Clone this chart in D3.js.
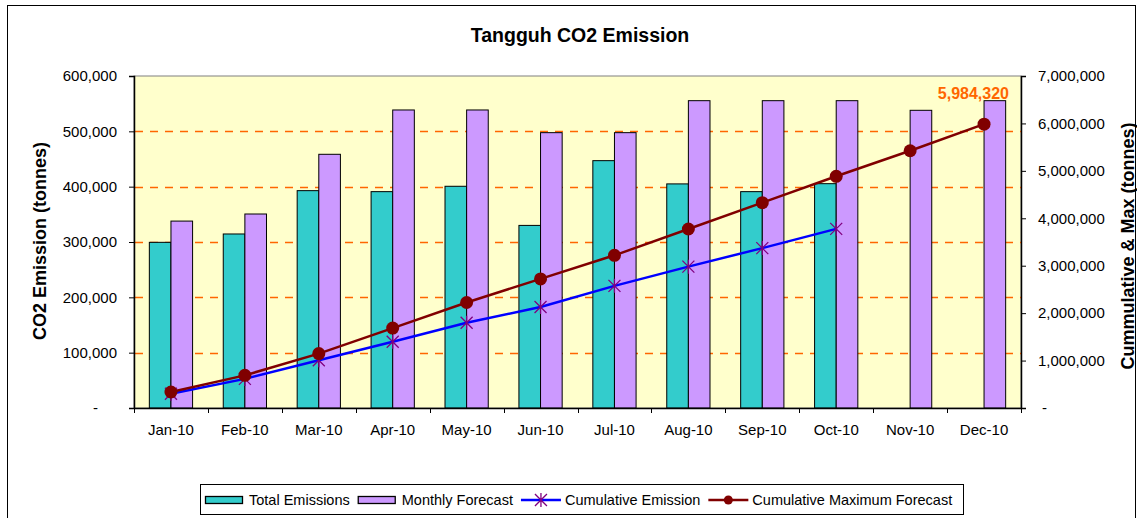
<!DOCTYPE html>
<html>
<head>
<meta charset="utf-8">
<script src="https://cdn.jsdelivr.net/npm/d3@7"></script>
<style>
  body { margin: 0; background: #fff; }
  text { font-family: Arial, "Liberation Sans", sans-serif; fill: #000; }
</style>
</head>
<body>
<div id="chart"></div>
<script>
// data
var months = ["Jan-10", "Feb-10", "Mar-10", "Apr-10", "May-10", "Jun-10",
  "Jul-10", "Aug-10", "Sep-10", "Oct-10", "Nov-10", "Dec-10"];
var totalEmissions = [299400, 314500, 392800, 391000, 400700, 330000,
  447000, 405000, 391000, 405400, null, null];
var monthlyForecast = [337800, 350600, 458500, 538600, 538600, 497600,
  497600, 555400, 555400, 555400, 538000, 555400];
var cumulativeEmission = [299400, 613900, 1006700, 1397700, 1798400, 2128400,
  2575400, 2980400, 3371400, 3776800, null, null];
var cumulativeMaxForecast = [337800, 688400, 1146900, 1685500, 2224100, 2721700,
  3219300, 3774700, 4330100, 4885500, 5423500, 5984320];
var leftTicks = [0, 100000, 200000, 300000, 400000, 500000, 600000];
var rightTicks = [0, 1000000, 2000000, 3000000, 4000000, 5000000, 6000000, 7000000];
var legendLabels = ["Total Emissions", "Monthly Forecast", "Cumulative Emission", "Cumulative Maximum Forecast"];

var W = 1137, H = 518;
var plot = { left: 134, right: 1021, top: 76, bottom: 408 };

var svg = d3.select("#chart").append("svg")
  .attr("width", W)
  .attr("height", H);

// outer frame
svg.append("rect")
  .attr("x", 7.5).attr("y", 5.5)
  .attr("width", 1128).attr("height", 520)
  .attr("fill", "#fff").attr("stroke", "#000").attr("stroke-width", 1);

var x = d3.scaleBand().domain(months).range([plot.left, plot.right]).padding(0);
var groupW = x.bandwidth() * 0.585;
var xs = d3.scaleBand().domain(["total", "forecast"]).range([-groupW / 2, groupW / 2]);

var yL = d3.scaleLinear().domain([0, 600000]).range([plot.bottom, plot.top]);
var yR = d3.scaleLinear().domain([0, 7000000]).range([plot.bottom, plot.top]);

var fmt = d3.format(",");

// plot background
svg.append("rect")
  .attr("x", plot.left).attr("y", plot.top)
  .attr("width", plot.right - plot.left).attr("height", plot.bottom - plot.top)
  .attr("fill", "#FFFFCC").attr("stroke", "#808080").attr("stroke-width", 1);

// gridlines
svg.append("g").selectAll("line")
  .data(leftTicks.filter(function (d) { return d > 0 && d < 600000; }))
  .join("line")
  .attr("x1", plot.left).attr("x2", plot.right)
  .attr("y1", function (d) { return Math.round(yL(d)) + 0.5; })
  .attr("y2", function (d) { return Math.round(yL(d)) + 0.5; })
  .attr("stroke", "#FF6600")
  .attr("stroke-width", 1.3)
  .attr("stroke-dasharray", "8,7")
  .attr("stroke-dashoffset", -1);

// bars
var groups = svg.append("g").selectAll("g")
  .data(months)
  .join("g")
  .attr("transform", function (d) { return "translate(" + (x(d) + x.bandwidth() / 2) + ",0)"; });

groups.each(function (m, i) {
  var g = d3.select(this);
  if (totalEmissions[i] != null) {
    g.append("rect")
      .attr("x", xs("total")).attr("width", xs.bandwidth())
      .attr("y", yL(totalEmissions[i]))
      .attr("height", plot.bottom - yL(totalEmissions[i]))
      .attr("fill", "#33CCCC").attr("stroke", "#000").attr("stroke-width", 1);
  }
  g.append("rect")
    .attr("x", xs("forecast")).attr("width", xs.bandwidth())
    .attr("y", yL(monthlyForecast[i]))
    .attr("height", plot.bottom - yL(monthlyForecast[i]))
    .attr("fill", "#CC99FF").attr("stroke", "#000").attr("stroke-width", 1);
});

// axes
var axL = svg.append("g")
  .attr("transform", "translate(" + plot.left + ",0)")
  .call(d3.axisLeft(yL).tickValues(leftTicks).tickSize(5).tickPadding(12)
    .tickFormat(function (d) { return d === 0 ? "-" : fmt(d); }));
axL.selectAll("text").style("font-size", "15px")
  .attr("dx", function (d) { return d === 0 ? -19 : 0; });

var axR = svg.append("g")
  .attr("transform", "translate(" + plot.right + ",0)")
  .call(d3.axisRight(yR).tickValues(rightTicks).tickSize(5).tickPadding(12)
    .tickFormat(function (d) { return d === 0 ? "-" : fmt(d); }));
axR.selectAll("text").style("font-size", "15px")
  .attr("dx", function (d) { return d === 0 ? 4 : 0; });

var axB = svg.append("g")
  .attr("transform", "translate(0," + plot.bottom + ")")
  .call(d3.axisBottom(x).tickSize(0).tickPadding(16));
axB.selectAll("text").style("font-size", "15px");
// boundary ticks
axB.selectAll(".bt")
  .data(months.map(function (d) { return x(d); }).concat([plot.right]))
  .join("line")
  .attr("x1", function (d) { return Math.round(d) + 0.5; })
  .attr("x2", function (d) { return Math.round(d) + 0.5; })
  .attr("y1", 0).attr("y2", 5)
  .attr("stroke", "#000");

[axL, axR, axB].forEach(function (a) {
  a.select(".domain").attr("stroke", "#000").attr("stroke-width", 1.5);
  a.selectAll(".tick line").attr("stroke", "#000");
});

// lines
var lineCum = d3.line()
  .defined(function (d) { return d != null; })
  .x(function (d, i) { return x(months[i]) + x.bandwidth() / 2; })
  .y(function (d) { return yR(d); });

svg.append("path")
  .datum(cumulativeEmission)
  .attr("fill", "none").attr("stroke", "#0000FF").attr("stroke-width", 2.5)
  .attr("d", lineCum);

var stars = svg.append("g").selectAll("g")
  .data(cumulativeEmission.filter(function (d) { return d != null; }))
  .join("g")
  .attr("transform", function (d, i) {
    return "translate(" + (x(months[i]) + x.bandwidth() / 2) + "," + yR(d) + ")";
  });
stars.append("path")
  .attr("d", "M-6,-6L6,6M-6,6L6,-6M0,-7L0,7")
  .attr("stroke", "#800080").attr("stroke-width", 1.3).attr("fill", "none");

svg.append("path")
  .datum(cumulativeMaxForecast)
  .attr("fill", "none").attr("stroke", "#800000").attr("stroke-width", 2.5)
  .attr("d", lineCum);

svg.append("g").selectAll("circle")
  .data(cumulativeMaxForecast)
  .join("circle")
  .attr("cx", function (d, i) { return x(months[i]) + x.bandwidth() / 2; })
  .attr("cy", function (d) { return yR(d); })
  .attr("r", 6.5)
  .attr("fill", "#800000");

// data label on last point
var last = cumulativeMaxForecast.length - 1;
svg.append("text")
  .attr("x", plot.right - 12)
  .attr("y", yR(cumulativeMaxForecast[last]) - 25)
  .attr("text-anchor", "end")
  .style("font-size", "16px").style("font-weight", "bold")
  .style("fill", "#FF6600")
  .text(fmt(cumulativeMaxForecast[last]));

// titles
svg.append("text")
  .attr("x", 580).attr("y", 42)
  .attr("text-anchor", "middle")
  .style("font-size", "19.5px").style("font-weight", "bold")
  .text("Tangguh CO2 Emission");

svg.append("text")
  .attr("transform", "translate(46,241) rotate(-90)")
  .attr("text-anchor", "middle")
  .style("font-size", "18px").style("font-weight", "bold")
  .text("CO2 Emission (tonnes)");

svg.append("text")
  .attr("transform", "translate(1134,246) rotate(-90)")
  .attr("text-anchor", "middle")
  .style("font-size", "18px").style("font-weight", "bold")
  .text("Cummulative & Max (tonnes)");

// legend
var lg = svg.append("g");
lg.append("rect")
  .attr("x", 200.5).attr("y", 484.5)
  .attr("width", 763).attr("height", 30)
  .attr("fill", "#fff").attr("stroke", "#000");

var cx = 205, ly = 500;
legendLabels.forEach(function (lab, i) {
  if (i < 2) {
    lg.append("rect")
      .attr("x", cx + 0.5).attr("y", ly - 3.5)
      .attr("width", 37).attr("height", 7)
      .attr("fill", i === 0 ? "#33CCCC" : "#CC99FF")
      .attr("stroke", "#000").attr("stroke-width", 1.3);
  } else {
    lg.append("line")
      .attr("x1", cx).attr("x2", cx + 40)
      .attr("y1", ly).attr("y2", ly)
      .attr("stroke", i === 2 ? "#0000FF" : "#800000").attr("stroke-width", 2.5);
    if (i === 2) {
      lg.append("path")
        .attr("d", "M" + (cx + 14) + "," + (ly - 6) + "l12,12m-12,0l12,-12m-6,-1l0,14")
        .attr("stroke", "#800080").attr("stroke-width", 1.3);
    } else {
      lg.append("circle").attr("cx", cx + 20).attr("cy", ly).attr("r", 4.5).attr("fill", "#800000");
    }
  }
  var t = lg.append("text")
    .attr("x", cx + 44).attr("y", ly + 5)
    .style("font-size", "14.5px")
    .text(lab);
  cx = cx + 44 + t.node().getComputedTextLength() + 8;
});
</script>
</body>
</html>
